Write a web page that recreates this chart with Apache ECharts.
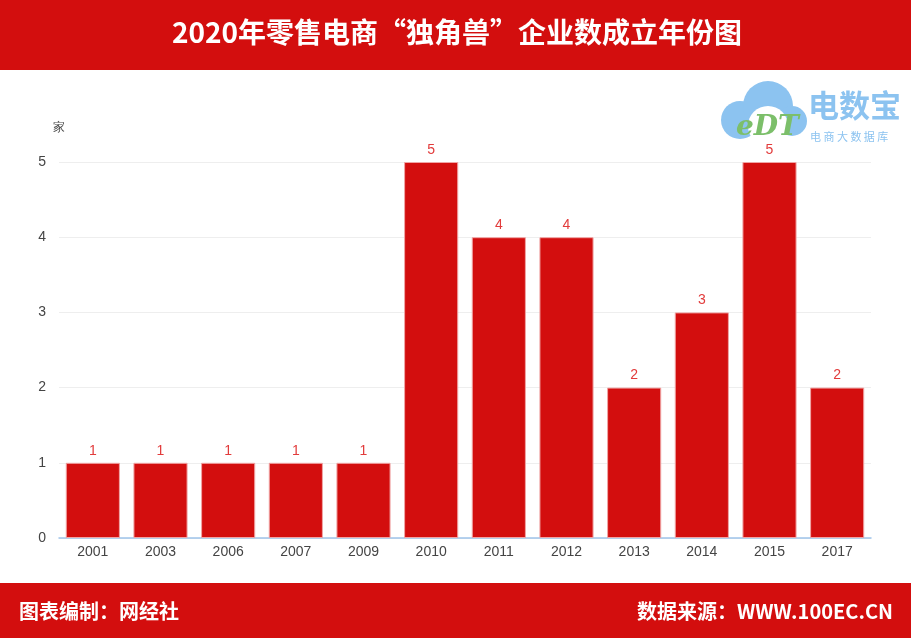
<!DOCTYPE html>
<html><head><meta charset="utf-8">
<script src="https://cdn.jsdelivr.net/npm/echarts@6/dist/echarts.min.js"></script>
<style>html,body{margin:0;padding:0;background:#fff}#c{width:911px;height:638px}</style>
</head><body><div id="c"></div>
<script>
const categories = ['2001','2003','2006','2007','2009','2010','2011','2012','2013','2014','2015','2017'];
const counts = [1,1,1,1,1,5,4,4,2,3,5,2];
const yTicks = [0,1,2,3,4,5];
const titleText = '2020年零售电商“独角兽”企业数成立年份图';
const footLeft = '图表编制：网经社';
const footRight = '数据来源：WWW.100EC.CN';
const RED = '#d30e0e';
const chart = echarts.init(document.getElementById('c'));
chart.setOption({
  animation:false,
  backgroundColor:'#fff',
  grid:{left:59,right:40,top:162,bottom:100,containLabel:false},
  xAxis:{type:'category',data:categories,
    axisLine:{lineStyle:{color:'#9fc4ea',width:1.5}},
    axisTick:{show:false},
    axisLabel:{color:'#444',fontSize:14,margin:7}},
  yAxis:{type:'value',min:yTicks[0],max:yTicks[yTicks.length-1],interval:1,
    name:'家',nameLocation:'end',nameGap:28,
    nameTextStyle:{color:'#444',fontSize:12,align:'center',padding:[0,0,0,0]},
    axisLine:{show:false},axisTick:{show:false},
    axisLabel:{color:'#444',fontSize:14,margin:13},
    splitLine:{lineStyle:{color:'#eeeeee'}}},
  series:[{type:'bar',data:counts,barCategoryGap:'20%',
    itemStyle:{color:RED,borderColor:'#f0a5a5',borderWidth:1},
    label:{show:true,position:'top',color:'#e23b3b',fontSize:14,distance:5}}],
  graphic:[
    {type:'rect',shape:{x:0,y:0,width:911,height:70},style:{fill:RED},z:10},
    {type:'text',x:457,y:32,style:{text:titleText,fill:'#fff',font:'bold 28px "Noto Sans CJK SC", sans-serif',textAlign:'center',textVerticalAlign:'middle'},z:11},
    {type:'rect',shape:{x:0,y:583,width:911,height:55},style:{fill:RED},z:10},
    {type:'text',x:19,y:611,style:{text:footLeft,fill:'#fff',font:'bold 20px "Noto Sans CJK SC", sans-serif',textAlign:'left',textVerticalAlign:'middle'},z:11},
    {type:'text',x:893,y:611,style:{text:footRight,fill:'#fff',font:'bold 20px "Noto Sans CJK SC", sans-serif',textAlign:'right',textVerticalAlign:'middle'},z:11},
    // logo
    {type:'group',z:5,children:[
      {type:'circle',shape:{cx:740,cy:120,r:19},style:{fill:'#8cc3f0'}},
      {type:'circle',shape:{cx:768,cy:106,r:25},style:{fill:'#8cc3f0'}},
      {type:'circle',shape:{cx:792,cy:121,r:15},style:{fill:'#8cc3f0'}},
      {type:'circle',shape:{cx:768,cy:126,r:20},style:{fill:'#fff'}},
      {type:'text',x:736,y:128,style:{text:'eDT',fill:'#7cbf6a',font:'italic bold 28px "DejaVu Serif", serif',textVerticalAlign:'middle'}},
      {type:'text',x:808,y:105,style:{text:'电数宝',fill:'#8cc3f0',font:'bold 31px "Noto Sans CJK SC", sans-serif',textVerticalAlign:'middle'}},
      {type:'text',x:810,y:137,style:{text:'电 商 大 数 据 库',fill:'#8cc3f0',font:'11px "Noto Sans CJK SC", sans-serif',textVerticalAlign:'middle'}}
    ]}
  ]
});
</script></body></html>
